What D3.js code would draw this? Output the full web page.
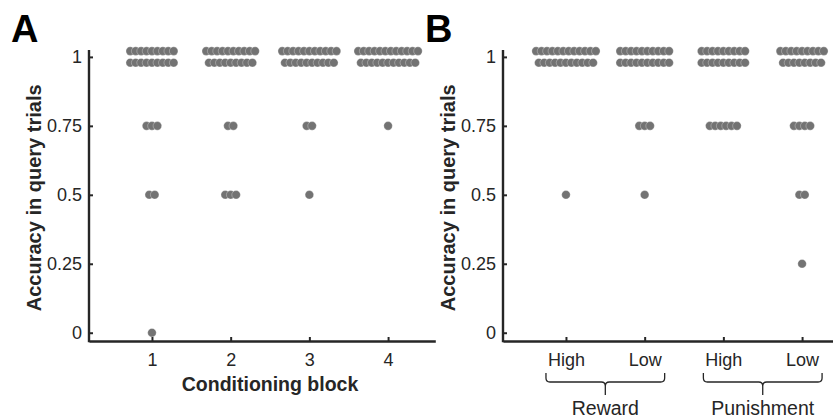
<!DOCTYPE html>
<html>
<head>
<meta charset="utf-8">
<script src="https://cdn.jsdelivr.net/npm/d3@7"></script>
<style>
  body { margin: 0; background: #fff; }
  text { font-family: 'Liberation Sans', Arial, sans-serif; }
</style>
</head>
<body>
<div id="chart"></div>
<script>
// accuracy levels shown on the y axis
const levels = [0, 0.25, 0.5, 0.75, 1]
const yTickLabels = ['0', '0.25', '0.5', '0.75', '1']

// panel A: number of participants at each accuracy level, per conditioning block
const blocks = ['1', '2', '3', '4']
const blockCounts = [
  [1, 0, 2, 3, 18],
  [0, 0, 3, 2, 19],
  [0, 0, 1, 2, 21],
  [0, 0, 0, 1, 23]
]

// panel B: same, per outcome condition
const conditions = ['High', 'Low', 'High', 'Low']
const conditionCounts = [
  [0, 0, 1, 0, 23],
  [0, 0, 1, 3, 20],
  [0, 0, 0, 6, 18],
  [0, 1, 2, 4, 17]
]
const groups = [
  { name: 'Reward', from: 0, to: 1 },
  { name: 'Punishment', from: 2, to: 3 }
]

const W = 833, H = 419
const axisColor = '#262626'
const dotColor = '#737373'
const maxRow = 12
const dx = 0.069    // horizontal step between neighbours (x units)
const dyRow = 0.021 // half gap between stacked rows (y units)

const svg = d3.select('#chart').append('svg')
  .attr('width', W)
  .attr('height', H)

function panel(left, letter, cats, counts, xTitle) {
  const x = d3.scaleLinear().domain([0.2, 4.6]).range([left, left + 346.3])
  const y = d3.scaleLinear().domain([-0.03, 1.025]).range([341, 50])
  const g = svg.append('g')

  // dots, left to right so the right-most sits on top
  const pts = []
  counts.forEach((row, ci) => {
    row.forEach((n, li) => {
      if (!n) return
      const rows = n > maxRow ? [Math.ceil(n / 2), Math.floor(n / 2)] : [n]
      rows.forEach((k, ri) => {
        const off = rows.length === 1 ? 0 : (ri === 0 ? dyRow : -dyRow)
        for (let i = 0; i < k; i++) {
          pts.push({ x: ci + 1 + (i - (k - 1) / 2) * dx, y: levels[li] + off })
        }
      })
    })
  })
  g.append('g').selectAll('circle')
    .data(pts)
    .join('circle')
    .attr('cx', d => x(d.x))
    .attr('cy', d => y(d.y))
    .attr('r', 4.3)
    .attr('fill', dotColor)
    .attr('stroke', '#fff')
    .attr('stroke-opacity', 0.5)
    .attr('stroke-width', 0.6)

  // axes, ticks pointing inward
  const yAxis = g.append('g')
    .attr('transform', `translate(${x.range()[0]},0)`)
    .call(d3.axisLeft(y).tickValues(levels).tickSizeInner(-4).tickSizeOuter(0)
      .tickPadding(7).tickFormat((d, i) => yTickLabels[i]))
  const xAxis = g.append('g')
    .attr('transform', `translate(0,${y.range()[0]})`)
    .call(d3.axisBottom(x).tickValues([1, 2, 3, 4]).tickSizeInner(-4).tickSizeOuter(0)
      .tickPadding(12).tickFormat((d, i) => cats[i]))
  ;[yAxis, xAxis].forEach(a => {
    a.select('.domain').attr('stroke', axisColor).attr('stroke-width', 2.4)
    a.selectAll('.tick line').attr('stroke', axisColor).attr('stroke-width', 2)
    a.selectAll('.tick text').attr('fill', axisColor).attr('font-size', '18px')
      .style('font-family', "'Liberation Sans', Arial, sans-serif")
  })
  yAxis.select('.domain').attr('d', `M0,${y.range()[0] + 1.2}V${y.range()[1]}`)

  g.append('text')
    .attr('transform', `translate(${left - 55},${y(0.5) + 3}) rotate(-90)`)
    .attr('text-anchor', 'middle')
    .attr('dy', '0.35em')
    .attr('font-size', '20px')
    .attr('font-weight', 'bold')
    .attr('fill', axisColor)
    .text('Accuracy in query trials')

  g.append('text')
    .attr('x', left - 78)
    .attr('y', 42)
    .attr('font-size', '38px')
    .attr('font-weight', 'bold')
    .attr('fill', '#000')
    .text(letter)

  if (xTitle) {
    g.append('text')
      .attr('x', x(2.5))
      .attr('y', 391)
      .attr('text-anchor', 'middle')
      .attr('font-size', '19.5px')
      .attr('font-weight', 'bold')
      .attr('fill', axisColor)
      .text(xTitle)
  }
  return x
}

panel(89, 'A', blocks, blockCounts, 'Conditioning block')
const xB = panel(503, 'B', conditions, conditionCounts, null)

// braces grouping the conditions
groups.forEach(gr => {
  const x1 = xB(gr.from + 1) - 20, x2 = xB(gr.to + 1) + 20
  const cx = (x1 + x2) / 2
  const top = 373, mid = 382
  const path = `M${x1},${top} L${x1},${mid - 4} Q${x1},${mid} ${x1 + 4},${mid} L${cx - 4},${mid}` +
    ` Q${cx},${mid} ${cx},${mid + 4} L${cx},${mid + 13} M${cx},${mid + 4} Q${cx},${mid} ${cx + 4},${mid}` +
    ` L${x2 - 4},${mid} Q${x2},${mid} ${x2},${mid - 4} L${x2},${top}`
  svg.append('path')
    .attr('d', path)
    .attr('fill', 'none')
    .attr('stroke', axisColor)
    .attr('stroke-width', 1.3)
  svg.append('text')
    .attr('x', cx)
    .attr('y', 415)
    .attr('text-anchor', 'middle')
    .attr('font-size', '19.5px')
    .attr('fill', axisColor)
    .text(gr.name)
})
</script>
</body>
</html>
